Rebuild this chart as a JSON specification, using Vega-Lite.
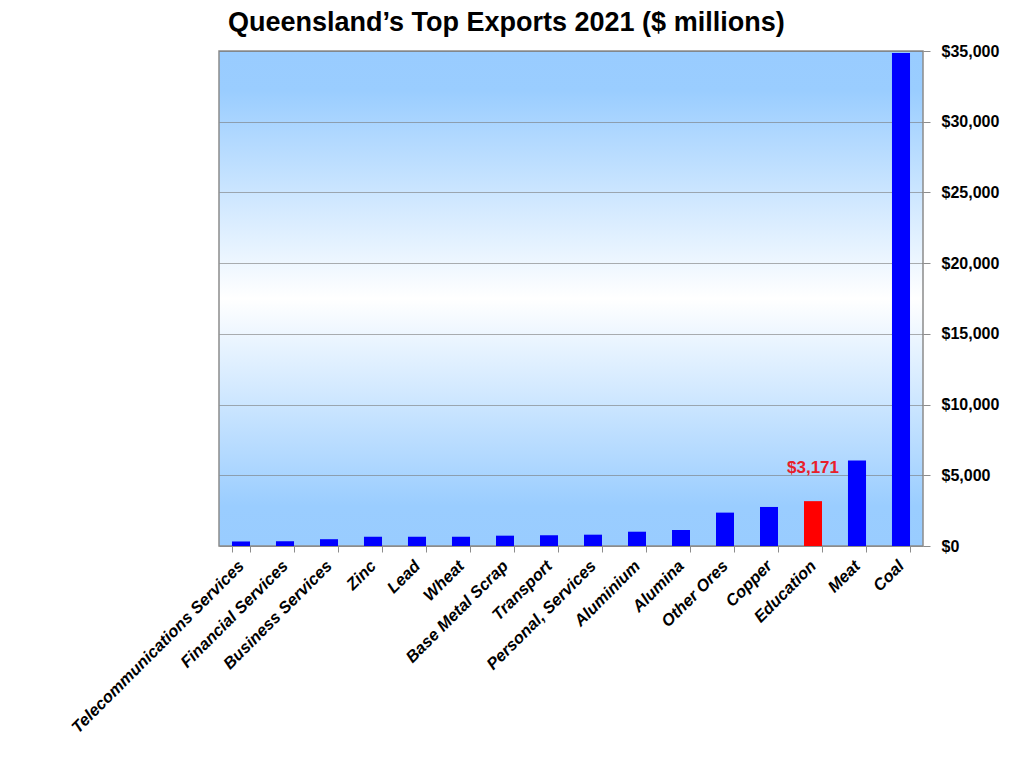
{
  "$schema": "https://vega.github.io/schema/vega-lite/v6.json",
  "autosize": "none",
  "width": 704,
  "height": 495,
  "padding": {"left": 219, "top": 51, "right": 101, "bottom": 222},
  "background": "white",
  "title": {
    "text": "Queensland’s Top Exports 2021 ($ millions)",
    "anchor": "start",
    "frame": "group",
    "dx": 9,
    "offset": 6,
    "font": "Liberation Sans",
    "fontSize": 27,
    "fontWeight": "bold",
    "color": "black"
  },
  "config": {
    "view": {
      "stroke": "#8c8c8c",
      "strokeWidth": 1.5,
      "fill": {
        "gradient": "linear",
        "x1": 0, "y1": 0, "x2": 0, "y2": 1,
        "stops": [
          {"offset": 0, "color": "#99ccff"},
          {"offset": 0.08, "color": "#9acdff"},
          {"offset": 0.5, "color": "#ffffff"},
          {"offset": 0.92, "color": "#9acdff"},
          {"offset": 1, "color": "#99ccff"}
        ]
      }
    }
  },
  "data": {
    "values": [
      {"category": "Telecommunications Services", "value": 320, "highlight": "no"},
      {"category": "Financial Services", "value": 330, "highlight": "no"},
      {"category": "Business Services", "value": 480, "highlight": "no"},
      {"category": "Zinc", "value": 650, "highlight": "no"},
      {"category": "Lead", "value": 650, "highlight": "no"},
      {"category": "Wheat", "value": 650, "highlight": "no"},
      {"category": "Base Metal Scrap", "value": 730, "highlight": "no"},
      {"category": "Transport", "value": 760, "highlight": "no"},
      {"category": "Personal, Services", "value": 800, "highlight": "no"},
      {"category": "Aluminium", "value": 1010, "highlight": "no"},
      {"category": "Alumina", "value": 1130, "highlight": "no"},
      {"category": "Other Ores", "value": 2360, "highlight": "no"},
      {"category": "Copper", "value": 2760, "highlight": "no"},
      {"category": "Education", "value": 3171, "highlight": "yes", "label": "$3,171"},
      {"category": "Meat", "value": 6050, "highlight": "no"},
      {"category": "Coal", "value": 34860, "highlight": "no"}
    ]
  },
  "encoding": {
    "x": {
      "field": "category",
      "type": "nominal",
      "sort": null,
      "scale": {"paddingInner": 0.59, "paddingOuter": 0.295},
      "axis": {
        "title": null,
        "labelAngle": -45,
        "labelAlign": "right",
        "labelBaseline": "middle",
        "labelFont": "Liberation Sans",
        "labelFontSize": 16.5,
        "labelFontWeight": "bold",
        "labelFontStyle": "italic",
        "labelColor": "black",
        "labelPadding": 11,
        "labelLimit": 0,
        "labelOverlap": false,
        "tickBand": "extent",
        "tickColor": "#8c8c8c",
        "tickSize": 6,
        "domain": false
      }
    },
    "y": {
      "field": "value",
      "type": "quantitative",
      "scale": {"domain": [0, 35000], "nice": false},
      "axis": {
        "orient": "right",
        "title": null,
        "values": [0, 5000, 10000, 15000, 20000, 25000, 30000, 35000],
        "format": "$,.0f",
        "labelFont": "Liberation Sans",
        "labelFontSize": 16,
        "labelFontWeight": "bold",
        "labelColor": "black",
        "labelPadding": 11,
        "tickColor": "#8c8c8c",
        "tickSize": 7,
        "gridColor": "#7a7a7a",
        "gridOpacity": 0.6,
        "gridWidth": 1.2,
        "domain": false
      }
    }
  },
  "layer": [
    {
      "mark": {"type": "bar"},
      "encoding": {
        "color": {
          "field": "highlight",
          "type": "nominal",
          "scale": {"domain": ["no", "yes"], "range": ["#0000ff", "#ff0000"]},
          "legend": null
        }
      }
    },
    {
      "transform": [{"filter": "isValid(datum.label)"}],
      "mark": {
        "type": "text",
        "dy": -33,
        "font": "Liberation Sans",
        "fontSize": 17,
        "fontWeight": "bold",
        "color": "#e8202a"
      },
      "encoding": {
        "text": {"field": "label"}
      }
    }
  ]
}
